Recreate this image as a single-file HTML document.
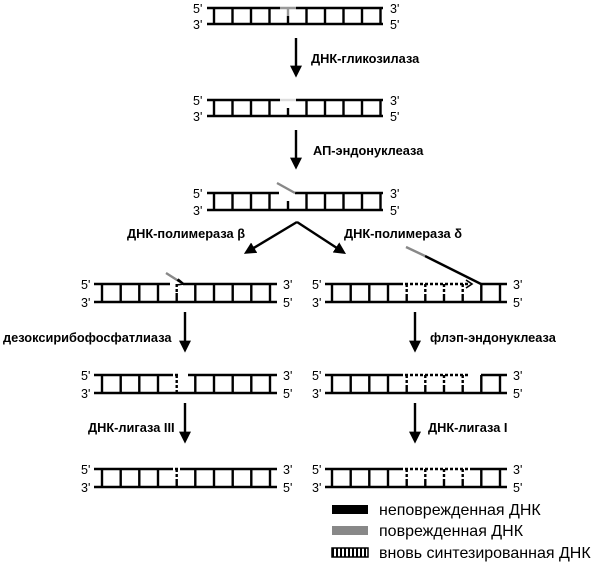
<!DOCTYPE html>
<html><head><meta charset="utf-8"><style>
html,body{margin:0;padding:0;background:#fff}
svg{display:block}
text{font-family:"Liberation Sans",sans-serif}
.b{font-weight:bold;font-size:12.8px}
.p{font-size:12.5px}
</style></head><body>
<svg width="600" height="566" viewBox="0 0 600 566" xmlns="http://www.w3.org/2000/svg">
<defs>
<marker id="ah" markerWidth="5" markerHeight="5" refX="3.5" refY="2.5" orient="auto" markerUnits="strokeWidth"><path d="M0,0 L5,2.5 L0,5 z" fill="#000"/></marker>
<pattern id="hat" width="4" height="10" patternUnits="userSpaceOnUse"><rect width="4" height="10" fill="#fff"/><rect width="2" height="10" fill="#000"/></pattern>
</defs>
<g stroke="#000" stroke-width="2.4" fill="none">
<!-- Row 1 -->
<path d="M207,8 H280 M296,8 H383 M207,24 H383"/>
<path d="M214,8V24 M232.5,8V24 M251,8V24 M269.5,8V24 M306.5,8V24 M325,8V24 M343.5,8V24 M362,8V24 M380.5,8V24 M288,16V24"/>
<path d="M280,8H296 M288,8V16" stroke="#999"/>
<!-- Row 2 -->
<path d="M207,100 H280 M296,100 H383 M207,116 H383"/>
<path d="M280,100H296" stroke="#ddd"/>
<path d="M214,100V116 M232.5,100V116 M251,100V116 M269.5,100V116 M306.5,100V116 M325,100V116 M343.5,100V116 M362,100V116 M380.5,100V116 M288,108V116"/>
<!-- Row 3 -->
<path d="M207,193 H279 M295,193 H383 M207,210 H383"/>
<path d="M214,193V210 M232.5,193V210 M251,193V210 M269.5,193V210 M306.5,193V210 M325,193V210 M343.5,193V210 M362,193V210 M380.5,193V210 M288,201V210"/>
<path d="M277,183 L295,193" stroke="#888"/>
<!-- arrows -->
<path d="M296,38 V74" marker-end="url(#ah)"/>
<path d="M296,130 V166" marker-end="url(#ah)"/>
<path d="M297,222 L247,252" marker-end="url(#ah)"/>
<path d="M297,222 L343,252" marker-end="url(#ah)"/>
<path d="M185,312 V349" marker-end="url(#ah)"/>
<path d="M185,403 V440" marker-end="url(#ah)"/>
<path d="M415,312 V349" marker-end="url(#ah)"/>
<path d="M415,403 V440" marker-end="url(#ah)"/>
<!-- Left row4 -->
<path d="M94,284 H170 M183,284 H277 M94,302 H277"/>
<path d="M102,284V302 M120.7,284V302 M139.3,284V302 M158,284V302 M195.3,284V302 M214,284V302 M232.7,284V302 M251.3,284V302 M270,284V302 M176.7,293V302"/>
<path d="M176.7,284V293" stroke-dasharray="3,2"/>
<path d="M166,273 L177,280" stroke="#888"/>
<path d="M177,280 L182,283" stroke-width="2"/>
<path d="M178,279 L184,284 L176,285" stroke-width="1.6"/>
<!-- Left row5 -->
<path d="M94,375 H170 M188,375 H277 M94,393 H277"/>
<path d="M170,375H180 M176.7,375V393" stroke-dasharray="3,2"/>
<path d="M102,375V393 M120.7,375V393 M139.3,375V393 M158,375V393 M195.3,375V393 M214,375V393 M232.7,375V393 M251.3,375V393 M270,375V393"/>
<!-- Left row6 -->
<path d="M94,469 H170 M183,469 H277 M94,487 H277"/>
<path d="M170,469H183 M176.7,469V480" stroke-dasharray="3,2"/>
<path d="M102,469V487 M120.7,469V487 M139.3,469V487 M158,469V487 M195.3,469V487 M214,469V487 M232.7,469V487 M251.3,469V487 M270,469V487 M176.7,480V487"/>
<!-- Right row4 -->
<path d="M325,284 H400 M481,284 H507 M325,302 H507"/>
<path d="M400,284H468 M406.7,284V295 M425.3,284V295 M444,284V295 M462.7,284V295" stroke-dasharray="3,2"/>
<path d="M406.7,295V302 M425.3,295V302 M444,295V302 M462.7,295V302"/>
<path d="M332,284V302 M350.7,284V302 M369.3,284V302 M388,284V302 M481.3,284V302 M500,284V302"/>
<path d="M466,280 L472,284 L466,288" stroke-width="1.6"/>
<path d="M425,256 L481,284"/>
<path d="M406,247 L425,256" stroke="#888"/>
<!-- Right row5 -->
<path d="M325,375 H400 M481,375 H507 M325,393 H507"/>
<path d="M400,375H470 M406.7,375V386 M425.3,375V386 M444,375V386 M462.7,375V386" stroke-dasharray="3,2"/>
<path d="M406.7,386V393 M425.3,386V393 M444,386V393 M462.7,386V393"/>
<path d="M332,375V393 M350.7,375V393 M369.3,375V393 M388,375V393 M481.3,375V393 M500,375V393"/>
<!-- Right row6 -->
<path d="M325,469 H400 M470,469 H507 M325,487 H507"/>
<path d="M400,469H470 M406.7,469V480 M425.3,469V480 M444,469V480 M462.7,469V480" stroke-dasharray="3,2"/>
<path d="M406.7,480V487 M425.3,480V487 M444,480V487 M462.7,480V487"/>
<path d="M332,469V487 M350.7,469V487 M369.3,469V487 M388,469V487 M481.3,469V487 M500,469V487"/>
</g>
<g class="p">
<text x="193" y="13">5'</text><text x="193" y="29">3'</text><text x="390" y="13">3'</text><text x="390" y="29">5'</text>
<text x="193" y="105">5'</text><text x="193" y="121">3'</text><text x="390" y="105">3'</text><text x="390" y="121">5'</text>
<text x="193" y="198">5'</text><text x="193" y="215">3'</text><text x="390" y="198">3'</text><text x="390" y="215">5'</text>
<text x="81" y="289">5'</text><text x="81" y="307">3'</text><text x="283" y="289">3'</text><text x="283" y="307">5'</text>
<text x="81" y="380">5'</text><text x="81" y="398">3'</text><text x="283" y="380">3'</text><text x="283" y="398">5'</text>
<text x="81" y="474">5'</text><text x="81" y="492">3'</text><text x="283" y="474">3'</text><text x="283" y="492">5'</text>
<text x="312" y="289">5'</text><text x="312" y="307">3'</text><text x="513" y="289">3'</text><text x="513" y="307">5'</text>
<text x="312" y="380">5'</text><text x="312" y="398">3'</text><text x="513" y="380">3'</text><text x="513" y="398">5'</text>
<text x="312" y="474">5'</text><text x="312" y="492">3'</text><text x="513" y="474">3'</text><text x="513" y="492">5'</text>
</g>
<g class="b">
<text x="311" y="63">ДНК-гликозилаза</text>
<text x="313" y="155">АП-эндонуклеаза</text>
<text x="127" y="238">ДНК-полимераза β</text>
<text x="344" y="238">ДНК-полимераза δ</text>
<text x="3" y="342">дезоксирибофосфатлиаза</text>
<text x="430" y="342">флэп-эндонуклеаза</text>
<text x="88" y="432">ДНК-лигаза III</text>
<text x="428" y="432">ДНК-лигаза I</text>
</g>
<rect x="332" y="505" width="36" height="9" fill="#000"/>
<rect x="332" y="526" width="36" height="9" fill="#888"/>
<rect x="332" y="548" width="36" height="9" fill="url(#hat)" stroke="#000" stroke-width="1.5"/>
<g font-size="16" font-family="Liberation Sans, sans-serif">
<text x="379" y="515">неповрежденная ДНК</text>
<text x="379" y="536">поврежденная ДНК</text>
<text x="379" y="558">вновь синтезированная ДНК</text>
</g>
</svg>
</body></html>
